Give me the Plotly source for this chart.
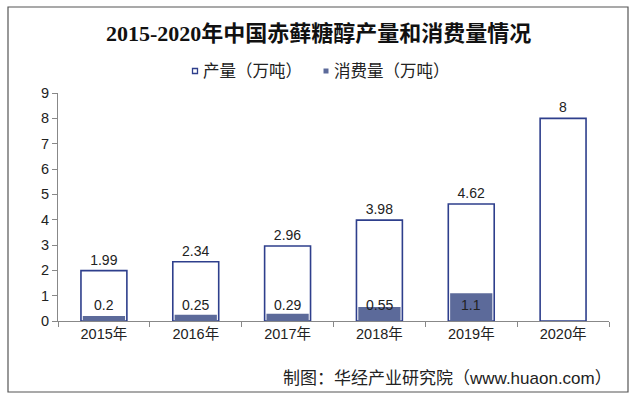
import plotly.graph_objects as go

years = ["2015年", "2016年", "2017年", "2018年", "2019年", "2020年"]
production = [1.99, 2.34, 2.96, 3.98, 4.62, 8]
consumption = [0.2, 0.25, 0.29, 0.55, 1.1, None]
cons_labels = ["0.2", "0.25", "0.29", "0.55", "1.1", ""]
prod_labels = ["1.99", "2.34", "2.96", "3.98", "4.62", "8"]
y_ticks = list(range(0, 10))
series_names = ["产量（万吨）", "消费量（万吨）"]

font_fam = "Liberation Sans, Arial, Noto Sans CJK SC, sans-serif"
EDGE = "#2E3F8C"
FILL = "#5C6A9A"

# plot area in pixels
L, R, T, B = 58, 609, 93, 321
W, H = R - L, B - T
def px(x):
    return (x - L) / W
def py(y):
    return (B - y) / H

fig = go.Figure()
fig.add_trace(go.Bar(
    x=years, y=production, name=series_names[0],
    marker=dict(color="white", line=dict(color=EDGE, width=1.6)),
    text=prod_labels, textposition="outside", cliponaxis=False,
    textfont=dict(size=14, color="#222", family=font_fam),
))
fig.add_trace(go.Bar(
    x=years, y=consumption, name=series_names[1],
    marker=dict(color=FILL, line=dict(color=FILL, width=0)),
    width=0.46,
))

for yr, lab in zip(years, cons_labels):
    if lab:
        fig.add_annotation(x=yr, y=0.62, text=lab, showarrow=False,
                           font=dict(size=14, color="#222", family=font_fam))

fig.update_layout(
    width=640, height=401,
    barmode="overlay", bargap=0.5,
    plot_bgcolor="white", paper_bgcolor="white",
    margin=dict(l=L, r=640 - R, t=T, b=401 - B),
    showlegend=False,
    xaxis=dict(showline=True, linecolor="#888", linewidth=1,
               ticks="outside", ticklen=5, tickcolor="#888",
               tickson="boundaries", automargin=False,
               tickfont=dict(size=14.5, color="#222", family=font_fam)),
    yaxis=dict(range=[0, 9], tickvals=y_ticks, showline=True, linecolor="#888",
               linewidth=1, ticks="outside", ticklen=5, tickcolor="#888",
               showgrid=False, zeroline=False, automargin=False,
               tickfont=dict(size=14.5, color="#222", family=font_fam)),
)

# title
fig.add_annotation(xref="paper", yref="paper", x=px(318), y=py(34),
                   xanchor="center", yanchor="middle", showarrow=False,
                   text="<b>2015-2020年中国赤藓糖醇产量和消费量情况</b>",
                   font=dict(size=22, color="#111",
                             family="Liberation Serif, Noto Sans CJK SC, serif"))

# legend (manual)
fig.add_shape(type="rect", xref="paper", yref="paper",
              x0=px(192.5), x1=px(197.5), y0=py(73.5), y1=py(68.5),
              line=dict(color=EDGE, width=1.3), fillcolor="white")
fig.add_annotation(xref="paper", yref="paper", x=px(201), y=py(71),
                   xanchor="left", yanchor="middle", showarrow=False,
                   text=series_names[0],
                   font=dict(size=16.5, color="#222", family=font_fam))
fig.add_shape(type="rect", xref="paper", yref="paper",
              x0=px(323.5), x1=px(328.5), y0=py(73.5), y1=py(68.5),
              line=dict(color=FILL, width=0), fillcolor=FILL)
fig.add_annotation(xref="paper", yref="paper", x=px(331.5), y=py(71),
                   xanchor="left", yanchor="middle", showarrow=False,
                   text=series_names[1],
                   font=dict(size=16.5, color="#222", family=font_fam))

# border
fig.add_shape(type="rect", xref="paper", yref="paper",
              x0=px(8), x1=px(628), y0=py(392), y1=py(7),
              line=dict(color="#555", width=1.2), fillcolor="rgba(0,0,0,0)")

# source
fig.add_annotation(xref="paper", yref="paper", x=px(614), y=py(378),
                   xanchor="right", yanchor="middle", showarrow=False,
                   text="制图：华经产业研究院（www.huaon.com）",
                   font=dict(size=17, color="#222", family=font_fam))

fig.write_html("out.html", config={"displayModeBar": False},
               post_script="document.body.style.margin='0';document.body.style.overflow='hidden';")
